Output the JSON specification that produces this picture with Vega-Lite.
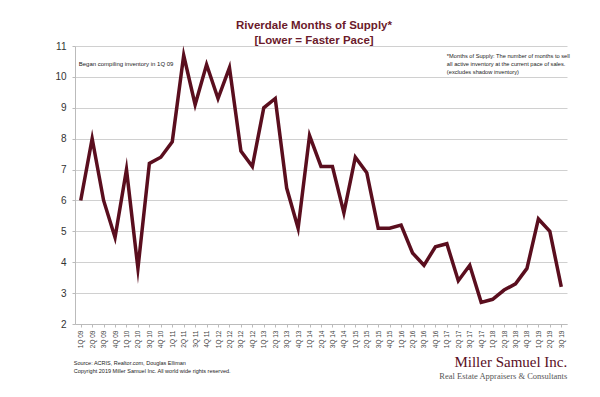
{
  "$schema": "https://vega.github.io/schema/vega-lite/v6.json",
  "width": 492,
  "height": 278,
  "autosize": {"type": "none"},
  "padding": {"left": 75, "top": 46, "right": 33, "bottom": 73},
  "background": "white",
  "title": {
    "text": ["Riverdale Months of Supply*", "[Lower = Faster Pace]"],
    "font": "Liberation Sans",
    "fontSize": 11.5,
    "fontWeight": "bold",
    "color": "#6b1a2b",
    "lineHeight": 15,
    "offset": -9,
    "anchor": "middle",
    "dx": -7
  },
  "datasets": {
    "supply": [
      {"q": "1Q 09", "v": 6.0}, {"q": "2Q 09", "v": 8.0}, {"q": "3Q 09", "v": 6.0}, {"q": "4Q 09", "v": 4.8},
      {"q": "1Q 10", "v": 7.0}, {"q": "2Q 10", "v": 3.8}, {"q": "3Q 10", "v": 7.2}, {"q": "4Q 10", "v": 7.4},
      {"q": "1Q 11", "v": 7.9}, {"q": "2Q 11", "v": 10.7}, {"q": "3Q 11", "v": 9.1}, {"q": "4Q 11", "v": 10.4},
      {"q": "1Q 12", "v": 9.3}, {"q": "2Q 12", "v": 10.3}, {"q": "3Q 12", "v": 7.6}, {"q": "4Q 12", "v": 7.1},
      {"q": "1Q 13", "v": 9.0}, {"q": "2Q 13", "v": 9.3}, {"q": "3Q 13", "v": 6.4}, {"q": "4Q 13", "v": 5.1},
      {"q": "1Q 14", "v": 8.1}, {"q": "2Q 14", "v": 7.1}, {"q": "3Q 14", "v": 7.1}, {"q": "4Q 14", "v": 5.6},
      {"q": "1Q 15", "v": 7.4}, {"q": "2Q 15", "v": 6.9}, {"q": "3Q 15", "v": 5.1}, {"q": "4Q 15", "v": 5.1},
      {"q": "1Q 16", "v": 5.2}, {"q": "2Q 16", "v": 4.3}, {"q": "3Q 16", "v": 3.9}, {"q": "4Q 16", "v": 4.5},
      {"q": "1Q 17", "v": 4.6}, {"q": "2Q 17", "v": 3.4}, {"q": "3Q 17", "v": 3.9}, {"q": "4Q 17", "v": 2.7},
      {"q": "1Q 18", "v": 2.8}, {"q": "2Q 18", "v": 3.1}, {"q": "3Q 18", "v": 3.3}, {"q": "4Q 18", "v": 3.8},
      {"q": "1Q 19", "v": 5.4}, {"q": "2Q 19", "v": 5.0}, {"q": "3Q 19", "v": 3.2}
    ],
    "began": [
      {"q": "1Q 09", "v": 10.35, "label": "Began compiling inventory in 1Q 09"}
    ],
    "footnote": [
      {"q": "1Q 17", "v": 10.62, "label": "*Months of Supply: The number of months to sell"},
      {"q": "1Q 17", "v": 10.36, "label": "all active inventory at the current pace of sales."},
      {"q": "1Q 17", "v": 10.10, "label": "(excludes shadow inventory)"}
    ],
    "source": [
      {"q": "1Q 09", "v": 0.67, "label": "Source: ACRIS, Realtor.com, Douglas Elliman"},
      {"q": "1Q 09", "v": 0.41, "label": "Copyright 2019 Miller Samuel Inc.  All world wide rights reserved."}
    ],
    "logo": [
      {"q": "3Q 19", "v": 0.6, "label": "Miller Samuel Inc."}
    ],
    "tag": [
      {"q": "3Q 19", "v": 0.22, "label": "Real Estate Appraisers & Consultants"}
    ]
  },
  "encoding": {
    "x": {
      "field": "q", "type": "ordinal", "sort": null,
      "scale": {"type": "point", "padding": 0.5},
      "axis": {
        "title": null, "labelAngle": 270, "labelFontSize": 6.5, "labelFont": "Liberation Sans",
        "labelColor": "#444", "labelPadding": 3, "tickSize": 3, "tickColor": "#bbb",
        "domainColor": "#bbb", "labelBaseline": "middle", "labelAlign": "right", "grid": false
      }
    },
    "y": {
      "field": "v", "type": "quantitative",
      "scale": {"domain": [2, 11], "nice": false, "zero": false},
      "axis": {
        "title": null, "values": [2, 3, 4, 5, 6, 7, 8, 9, 10, 11], "labelOverlap": false, "labelFontSize": 10,
        "labelFont": "Liberation Sans", "labelColor": "#333", "tickSize": 3, "tickColor": "#bbb",
        "domainColor": "#bbb", "grid": true, "gridColor": "#d0d0d0", "labelPadding": 6
      }
    }
  },
  "layer": [
    {
      "data": {"name": "supply"},
      "mark": {"type": "line", "color": "#5a0e1e", "strokeWidth": 3.5, "strokeJoin": "miter", "strokeMiterLimit": 10}
    },
    {
      "data": {"name": "began"},
      "mark": {"type": "text", "align": "left", "baseline": "alphabetic", "font": "Liberation Sans", "fontSize": 6, "color": "#222", "dx": -2},
      "encoding": {"text": {"field": "label"}}
    },
    {
      "data": {"name": "footnote"},
      "mark": {"type": "text", "align": "left", "baseline": "alphabetic", "font": "Liberation Sans", "fontSize": 5.7, "color": "#222", "dx": 0},
      "encoding": {"text": {"field": "label"}}
    },
    {
      "data": {"name": "source"},
      "mark": {"type": "text", "align": "left", "baseline": "alphabetic", "font": "Liberation Sans", "fontSize": 5.5, "color": "#222", "dx": -7},
      "encoding": {"text": {"field": "label"}}
    },
    {
      "data": {"name": "logo"},
      "mark": {"type": "text", "align": "right", "baseline": "alphabetic", "font": "Liberation Serif", "fontSize": 15, "color": "#5a0e1e", "dx": 6},
      "encoding": {"text": {"field": "label"}}
    },
    {
      "data": {"name": "tag"},
      "mark": {"type": "text", "align": "right", "baseline": "alphabetic", "font": "Liberation Serif", "fontSize": 8.5, "color": "#555", "dx": 6},
      "encoding": {"text": {"field": "label"}}
    }
  ],
  "config": {"view": {"stroke": null}}
}
